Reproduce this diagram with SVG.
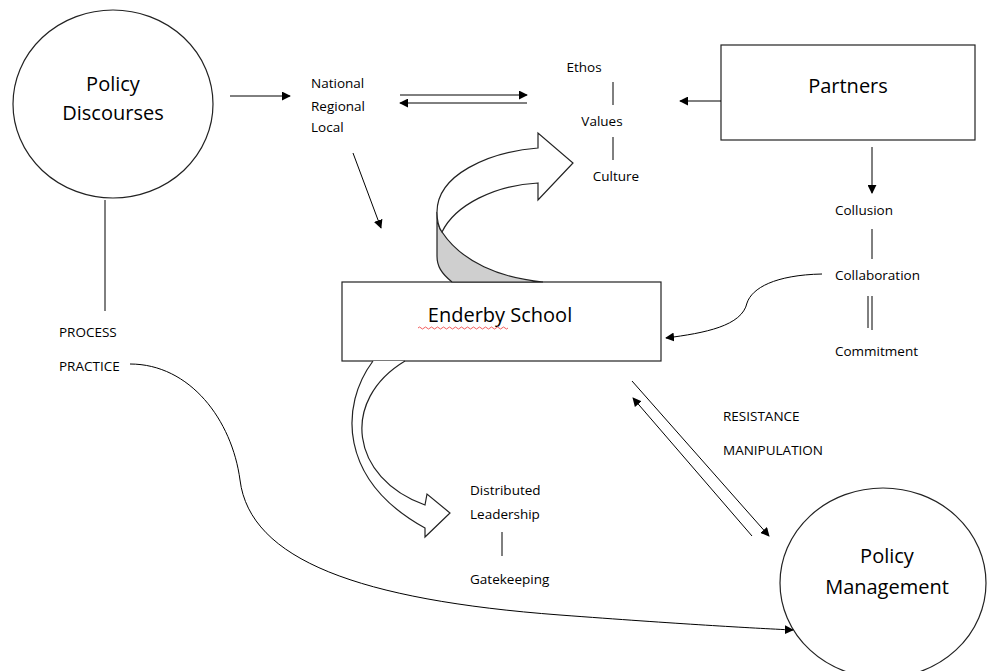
<svg xmlns="http://www.w3.org/2000/svg" width="989" height="671" viewBox="0 0 989 671">
<defs>
<marker id="ah" viewBox="0 0 10 10" refX="9" refY="5" markerWidth="9" markerHeight="9" markerUnits="userSpaceOnUse" orient="auto-start-reverse">
<path d="M0,0 L10,5 L0,10 Z" fill="#000"/>
</marker>
<style>
.ln{stroke:#000;stroke-width:1;fill:none}
.sh{stroke:#222;stroke-width:1.2;fill:#fff}
.big{font-family:"Open Sans","Liberation Sans",Arial,sans-serif;font-size:20px;fill:#000}
.sm{font-family:"Open Sans","Liberation Sans",Arial,sans-serif;font-size:13.5px;fill:#000}
</style>
</defs>
<rect width="989" height="671" fill="#fff"/>

<g id="policy-discourses">
<ellipse class="sh" cx="113" cy="104" rx="100" ry="94"/>
<text class="big" x="113" y="91" text-anchor="middle">Policy</text>
<text class="big" x="113" y="120" text-anchor="middle">Discourses</text>
</g>

<g id="levels">
<text class="sm" x="311" y="88">National</text>
<text class="sm" x="311" y="111">Regional</text>
<text class="sm" x="311" y="132">Local</text>
</g>

<g id="ethos">
<text class="sm" x="584" y="72" text-anchor="middle">Ethos</text>
<text class="sm" x="602" y="126" text-anchor="middle">Values</text>
<text class="sm" x="616" y="181" text-anchor="middle">Culture</text>
<line class="ln" x1="613" y1="82" x2="613" y2="105"/>
<line class="ln" x1="613" y1="137" x2="613" y2="160"/>
</g>

<g id="partners">
<rect class="sh" x="721" y="45" width="254" height="95"/>
<text class="big" x="848" y="93" text-anchor="middle">Partners</text>
</g>

<g id="collusion">
<text class="sm" x="835" y="215">Collusion</text>
<text class="sm" x="835" y="280">Collaboration</text>
<text class="sm" x="835" y="356">Commitment</text>
<line class="ln" x1="872" y1="229" x2="872" y2="259"/>
<line class="ln" x1="868" y1="296" x2="868" y2="328"/>
<line class="ln" x1="872" y1="296" x2="872" y2="330"/>
</g>

<g id="enderby-school">
<rect class="sh" x="342" y="282" width="319" height="79"/>
<text class="big" x="500" y="322" text-anchor="middle">Enderby School</text>
<path d="M418,328 q1.5,-2 3,0 t3,0 t3,0 t3,0 t3,0 t3,0 t3,0 t3,0 t3,0 t3,0 t3,0 t3,0 t3,0 t3,0 t3,0 t3,0 t3,0 t3,0 t3,0 t3,0 t3,0 t3,0 t3,0 t3,0 t3,0 t3,0 t3,0 t3,0 t3,0 t3,0" fill="none" stroke="#e33" stroke-width="0.8"/>
</g>

<g id="process">
<text class="sm" x="59" y="337">PROCESS</text>
<text class="sm" x="59" y="371">PRACTICE</text>
</g>

<g id="leadership">
<text class="sm" x="470" y="495">Distributed</text>
<text class="sm" x="470" y="519">Leadership</text>
<line class="ln" x1="502" y1="532" x2="502" y2="556"/>
<text class="sm" x="470" y="584">Gatekeeping</text>
</g>

<g id="resistance">
<text class="sm" x="723" y="421">RESISTANCE</text>
<text class="sm" x="723" y="455">MANIPULATION</text>
</g>

<g id="policy-management">
<ellipse class="sh" cx="883" cy="583" rx="103" ry="95"/>
<text class="big" x="887" y="563" text-anchor="middle">Policy</text>
<text class="big" x="887" y="594" text-anchor="middle">Management</text>
</g>

<g id="connectors">
<line class="ln" x1="105" y1="200" x2="105" y2="311"/>
<line class="ln" x1="230" y1="96" x2="290" y2="96" marker-end="url(#ah)"/>
<line class="ln" x1="400" y1="95" x2="527" y2="95" marker-end="url(#ah)"/>
<line class="ln" x1="527" y1="103" x2="400" y2="103" marker-end="url(#ah)"/>
<line class="ln" x1="353" y1="153" x2="381" y2="228" marker-end="url(#ah)"/>
<line class="ln" x1="721" y1="101" x2="680" y2="101" marker-end="url(#ah)"/>
<line class="ln" x1="872" y1="147" x2="872" y2="193" marker-end="url(#ah)"/>
<path class="ln" d="M822,274 C775,275 752,288 747,303 C742,326 705,333 666,338" marker-end="url(#ah)"/>
<line class="ln" x1="632" y1="381" x2="769" y2="536" marker-end="url(#ah)"/>
<line class="ln" x1="752" y1="536" x2="633" y2="398" marker-end="url(#ah)"/>
<path class="ln" d="M130,364 C190,364 232,420 240,480 C250,560 360,600 560,615 C680,624 750,628 793,630" marker-end="url(#ah)"/>
</g>

<g id="curved-arrow-up">
<path d="M442,232 C462,262 500,278 543,282 L452,282 C441,273 437,266 437,256 L437,212 C437,222 439,228 442,232 Z" fill="#cfcfcf" stroke="#222" stroke-width="1.2"/>
<path d="M437,212 C437,175 488,152 538,148 L538,133 L573,163 L538,200 L538,183 C495,185 455,205 442,232 C439,228 437,222 437,212 Z" fill="#fff" stroke="#222" stroke-width="1.2"/>
</g>

<g id="curved-arrow-down">
<path d="M373,361 C340,405 338,480 425,528 L425,537 L450,513 L427,494 L425,505 C350,478 340,400 405,361" fill="#fff" stroke="#222" stroke-width="1.2"/>
</g>
</svg>
